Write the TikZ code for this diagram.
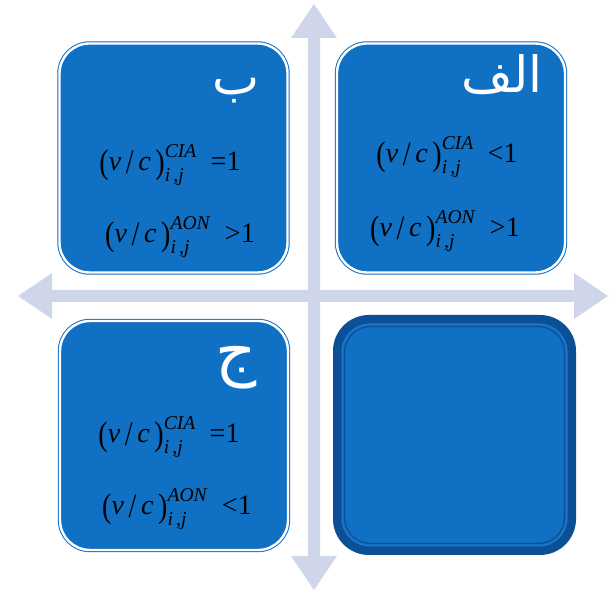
\documentclass[tikz,border=0pt]{standalone}
\usepackage{amsmath}
\usepackage{graphicx}
\usepackage{fontspec}
\setmainfont{Liberation Serif}
\newfontfamily\arabicfont[Script=Arabic]{DejaVu Sans}
\TeXXeTstate=1
\definecolor{boxblue}{RGB}{16,112,196}
\definecolor{darkblue}{RGB}{11,80,150}
\definecolor{ringblue}{RGB}{40,120,200}
\definecolor{arrowc}{RGB}{208,214,234}
\newcommand{\tallch}[1]{\raisebox{-0.09em}{\scalebox{1}[1.22]{#1}}}
\newcommand{\vcf}[2]{$\text{\tallch{(}\textit{v}\,\tallch{/}\,\textit{c}\,\tallch{)}}^{\text{\textit{#1}}}_{\text{\textit{i\,,j}}}\;\;\text{#2}$}
\tikzset{
  qbox/.style={rectangle, rounded corners=30pt, minimum width=228pt, minimum height=229pt,
    fill=boxblue, draw=boxblue, double=white, double distance=2.4pt, line width=1pt, inner sep=0pt},
  darkbox/.style={rectangle, rounded corners=36pt, minimum width=243pt, minimum height=240pt,
    fill=darkblue, inner sep=0pt},
  innerbox/.style={rectangle, rounded corners=28pt, minimum width=225pt, minimum height=222pt,
    fill=boxblue, draw=ringblue, line width=1pt, inner sep=0pt},
  formula/.style={text=black, font=\fontsize{28}{32}\selectfont, anchor=base, inner sep=0pt},
  letter/.style={text=white, font=\arabicfont\fontsize{50}{54}\selectfont, anchor=base, inner sep=0pt}
}
\begin{document}
\begin{tikzpicture}[x=1pt,y=-1pt]
\useasboundingbox (0,0) rectangle (611,593);
% cross of block arrows
\fill[arrowc] (314,4) -- (337,38) -- (320,38) -- (320,290) -- (574,290) -- (574,273) -- (608,296)
  -- (574,319) -- (574,302) -- (320,302) -- (320,556) -- (337,556) -- (314,590) -- (291,556)
  -- (308,556) -- (308,302) -- (52,302) -- (52,319) -- (18,296) -- (52,273) -- (52,290)
  -- (308,290) -- (308,38) -- (291,38) -- cycle;
% quadrant boxes
\node[qbox] (qb) at (173.5,158) {};
\node[qbox] (qa) at (451,158) {};
\node[qbox] (qj) at (174,435.5) {};
\node[darkbox] (qd) at (454.5,435) {};
\node[innerbox] (qdi) at (qd.center) {};
\draw[darkblue, line width=1.2pt, rounded corners=26pt] ([xshift=3pt,yshift=-3pt]qdi.north west) rectangle ([xshift=-3pt,yshift=3pt]qdi.south east);
% letters
\node[letter] (lb) at (236,95) {\beginR ب\endR};
\node[letter] (la) at (502,93) {\beginR الف\endR};
\node[letter, font=\arabicfont\fontsize{64}{68}\selectfont] (lj) at (236,374) {\beginR ج\endR};
% formulas
\node[formula] (fb1) at (170,171) {\vcf{CIA}{=1}};
\node[formula] (fb2) at (180,243) {\vcf{AON}{>1}};
\node[formula] (fa1) at (447,163) {\vcf{CIA}{<1}};
\node[formula] (fa2) at (445,237) {\vcf{AON}{>1}};
\node[formula] (fj1) at (169,443) {\vcf{CIA}{=1}};
\node[formula] (fj2) at (177,515) {\vcf{AON}{<1}};
\end{tikzpicture}
\end{document}
